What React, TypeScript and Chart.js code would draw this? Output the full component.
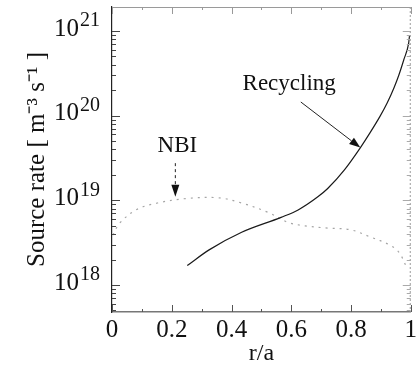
import { useEffect, useRef } from "react";
import { Chart, registerables } from "chart.js";

Chart.register(...registerables);

// Recycling source (solid line)
const recyclingR = [0.252, 0.325, 0.434, 0.566, 0.623, 0.689, 0.722, 0.778, 0.831, 0.864, 0.897, 0.921, 0.944, 0.96, 0.977, 0.993, 0.996];
const recyclingRate = [1.7e18, 2.6e18, 4.2e18, 6.3e18, 7.7e18, 1.1e19, 1.38e19, 2.29e19, 4.17e19, 6.3e19, 9.8e19, 1.41e20, 2.14e20, 3.0e20, 4.6e20, 7.2e20, 8.9e20];

// NBI source (dotted line)
const nbiR = [0.003, 0.026, 0.083, 0.152, 0.248, 0.358, 0.434, 0.523, 0.589, 0.646, 0.722, 0.798, 0.864, 0.927, 0.96, 0.987];
const nbiRate = [3.9e18, 5.4e18, 7.8e18, 9.3e18, 1.05e19, 1.07e19, 9.3e18, 7.2e18, 5.5e18, 5.0e18, 4.7e18, 4.5e18, 3.7e18, 3.0e18, 2.45e18, 1.6e18];

const xTickValues = [0, 0.2, 0.4, 0.6, 0.8, 1];
const xTickLabels = ["0", "0.2", "0.4", "0.6", "0.8", "1"];
const yExponents = [18, 19, 20, 21];

// annotations (data coordinates)
const nbiLabel = { text: "NBI", r: 0.219, v: 3.7e19 };
const nbiArrow = { r0: 0.212, v0: 2.75e19, r1: 0.212, v1: 1.1e19 };
const recLabel = { text: "Recycling", r: 0.593, v: 2.0e20 };
const recArrow = { r0: 0.632, v0: 1.45e20, r1: 0.831, v1: 4.2e19 };

const SERIF = '"Liberation Serif", "Times New Roman", serif';

function drawArrow(ctx: CanvasRenderingContext2D, x0: number, y0: number, x1: number, y1: number, dashed: boolean, head: number, half: number) {
  const ang = Math.atan2(y1 - y0, x1 - x0);
  const bx = x1 - Math.cos(ang) * head;
  const by = y1 - Math.sin(ang) * head;
  ctx.beginPath();
  if (dashed) ctx.setLineDash([3, 3]);
  ctx.moveTo(x0, y0);
  ctx.lineTo(bx, by);
  ctx.stroke();
  ctx.setLineDash([]);
  ctx.beginPath();
  ctx.moveTo(x1, y1);
  ctx.lineTo(bx + Math.sin(ang) * half, by - Math.cos(ang) * half);
  ctx.lineTo(bx - Math.sin(ang) * half, by + Math.cos(ang) * half);
  ctx.closePath();
  ctx.fill();
}

const decorPlugin = {
  id: "decor",
  afterDraw(chart: any) {
    const { ctx, chartArea: a, scales } = chart;
    const xs = scales.x;
    const ys = scales.y;
    ctx.save();
    // top & right frame
    ctx.lineWidth = 1;
    ctx.strokeStyle = "#9a9a9a";
    ctx.beginPath();
    ctx.moveTo(a.left, a.top + 0.5);
    ctx.lineTo(a.right, a.top + 0.5);
    ctx.stroke();
    ctx.setLineDash([2, 2]);
    ctx.beginPath();
    ctx.moveTo(a.right - 0.5, a.top);
    ctx.lineTo(a.right - 0.5, a.bottom);
    ctx.stroke();
    ctx.setLineDash([]);

    // y ticks (inward)
    for (let e = 17; e <= 21; e++) {
      for (let m = 1; m < 10; m++) {
        const v = m * Math.pow(10, e);
        if (v < ys.min || v > ys.max) continue;
        const py = Math.round(ys.getPixelForValue(v)) + 0.5;
        const len = m === 1 ? 8 : 4;
        ctx.strokeStyle = "#444";
        ctx.beginPath();
        ctx.moveTo(a.left, py);
        ctx.lineTo(a.left + len, py);
        ctx.stroke();
        ctx.strokeStyle = "#aaa";
        ctx.beginPath();
        ctx.moveTo(a.right, py);
        ctx.lineTo(a.right - len, py);
        ctx.stroke();
      }
    }
    // x ticks (inward)
    for (let i = 0; i <= 10; i++) {
      const px = Math.round(xs.getPixelForValue(i * 0.1)) + 0.5;
      const len = i % 2 === 0 ? 7 : 3;
      ctx.strokeStyle = "#555";
      ctx.beginPath();
      ctx.moveTo(px, a.bottom);
      ctx.lineTo(px, a.bottom - len);
      ctx.stroke();
      ctx.strokeStyle = "#999";
      ctx.beginPath();
      ctx.moveTo(px, a.top);
      ctx.lineTo(px, a.top + len);
      ctx.stroke();
    }

    // y tick labels 10^n
    ctx.fillStyle = "#111";
    for (const e of yExponents) {
      const py = ys.getPixelForValue(Math.pow(10, e));
      ctx.font = "25px " + SERIF;
      ctx.textAlign = "right";
      ctx.textBaseline = "middle";
      ctx.fillText("10", a.left - 33, py - 2);
      ctx.font = "20px " + SERIF;
      ctx.textAlign = "left";
      ctx.fillText(String(e), a.left - 32, py - 10);
    }

    // annotations
    ctx.font = "23px " + SERIF;
    ctx.textAlign = "center";
    ctx.textBaseline = "alphabetic";
    ctx.fillText(nbiLabel.text, xs.getPixelForValue(nbiLabel.r), ys.getPixelForValue(nbiLabel.v));
    ctx.fillText(recLabel.text, xs.getPixelForValue(recLabel.r), ys.getPixelForValue(recLabel.v));

    ctx.strokeStyle = "#222";
    ctx.fillStyle = "#111";
    ctx.lineWidth = 1;
    drawArrow(ctx,
      xs.getPixelForValue(nbiArrow.r0), ys.getPixelForValue(nbiArrow.v0),
      xs.getPixelForValue(nbiArrow.r1), ys.getPixelForValue(nbiArrow.v1), true, 12, 4);
    drawArrow(ctx,
      xs.getPixelForValue(recArrow.r0), ys.getPixelForValue(recArrow.v0),
      xs.getPixelForValue(recArrow.r1), ys.getPixelForValue(recArrow.v1), false, 11, 4);
    ctx.restore();
  },
};

export default function App() {
  const ref = useRef<HTMLCanvasElement | null>(null);
  useEffect(() => {
    if (!ref.current) return;
    const chart = new Chart(ref.current, {
      type: "line",
      data: {
        datasets: [
          {
            label: "Recycling",
            data: recyclingR.map((r, i) => ({ x: r, y: recyclingRate[i] })),
            borderColor: "#1a1a1a",
            borderWidth: 1.2,
            pointRadius: 0,
            cubicInterpolationMode: "monotone",
            fill: false,
          },
          {
            label: "NBI",
            data: nbiR.map((r, i) => ({ x: r, y: nbiRate[i] })),
            borderColor: "#a5a5a5",
            borderWidth: 1.2,
            borderDash: [2, 5],
            pointRadius: 0,
            tension: 0.35,
            fill: false,
          },
        ],
      },
      options: {
        responsive: false,
        animation: false,
        devicePixelRatio: 1,
        layout: { padding: { top: 7, right: 6, left: 0, bottom: 0 } },
        plugins: { legend: { display: false }, tooltip: { enabled: false } },
        scales: {
          x: {
            type: "linear",
            min: 0,
            max: 1,
            afterBuildTicks: (scale: any) => {
              scale.ticks = xTickValues.map((v) => ({ value: v }));
            },
            ticks: {
              autoSkip: false,
              maxRotation: 0,
              padding: 3,
              color: "#111",
              font: { family: SERIF, size: 25 },
              callback: (_v: any, i: number) => xTickLabels[i],
            },
            grid: { display: false, drawTicks: false },
            border: { display: true, color: "#777", width: 1.5 },
            title: {
              display: true,
              text: "r/a",
              color: "#111",
              font: { family: SERIF, size: 24 },
              padding: { top: 0, bottom: 1 },
            },
            afterFit: (scale: any) => {
              scale.height = 57;
            },
          },
          y: {
            type: "logarithmic",
            min: 4.8e17,
            max: 1.92e21,
            ticks: { display: false },
            grid: { display: false, drawTicks: false },
            border: { display: true, color: "#222", width: 1.2 },
            title: {
              display: true,
              text: "Source rate [ m\u207B\u00B3 s\u207B\u00B9 ]",
              color: "#111",
              font: { family: SERIF, size: 25 },
              padding: { top: 22, bottom: 0 },
            },
            afterFit: (scale: any) => {
              scale.width = 112;
            },
          },
        },
      },
      plugins: [decorPlugin],
    } as any);
    return () => chart.destroy();
  }, []);
  return (
    <div style={{ position: "fixed", left: 0, top: 0, width: 420, height: 369, background: "#fff" }}>
      <canvas ref={ref} width={420} height={369} />
    </div>
  );
}
